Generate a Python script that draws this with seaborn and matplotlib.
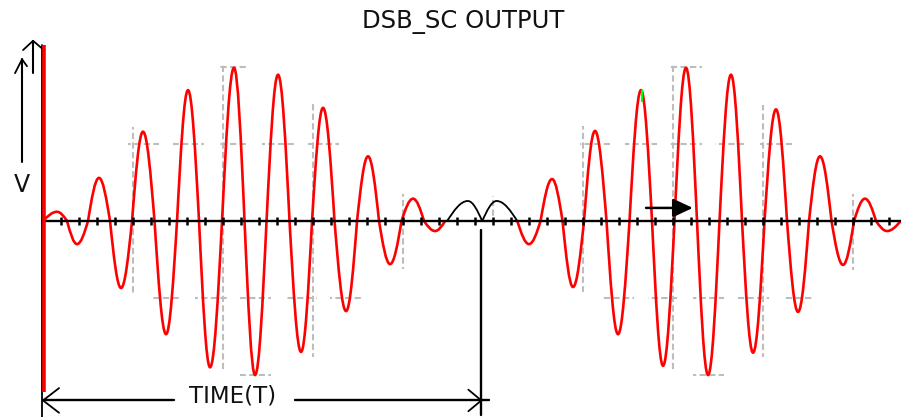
import numpy as np
import matplotlib
matplotlib.use("Agg")
import matplotlib.pyplot as plt
import seaborn as sns
from matplotlib.path import Path
from matplotlib.patches import PathPatch

# ---------------- data (x in grid divisions, y in volts) ----------------
# first DSB-SC burst (red)
burst1_start = 0.0
burst1_peak_x = [0.156, 0.378, 0.622, 0.867, 1.111, 1.367, 1.611, 1.856, 2.122,
                 2.356, 2.611, 2.867, 3.111, 3.367, 3.611, 3.856, 4.111, 4.356]
burst1_peak_y = [0.12, -0.30, 0.56, -0.87, 1.16, -1.47, 1.70, -1.90, 1.99,
                 -2.00, 1.90, -1.70, 1.47, -1.17, 0.84, -0.56, 0.29, -0.13]
burst1_end = 4.467

# message crossing region (black)
gap_start = 4.49
gap_peak_x = [4.72, 5.04]
gap_peak_y = [0.26, 0.26]
gap_end = 5.27

# second DSB-SC burst (red)
burst2_start = 5.27
burst2_peak_x = [5.400, 5.656, 5.889, 6.133, 6.389, 6.644, 6.889, 7.144, 7.389,
                 7.644, 7.889, 8.144, 8.389, 8.633, 8.889, 9.133, 9.378]
burst2_peak_y = [-0.30, 0.545, -0.857, 1.17, -1.47, 1.70, -1.88, 1.99, -2.00,
                 1.90, -1.71, 1.45, -1.18, 0.84, -0.57, 0.29, -0.13]
burst2_end = 9.53

time_ticks = [round(0.2 * k, 1) for k in range(1, 48)]
grid_x = [1, 2, 3, 4, 5, 6, 7, 8, 9]
grid_y = [-2, -1, 1, 2]
title_text = "DSB_SC OUTPUT"
x_label = "TIME(T)"
y_label = "V"


# ---------------- helpers ----------------
def knots_of(start, px, py, end):
    knots = [(start, 0.0)]
    for i, (x, y) in enumerate(zip(px, py)):
        knots.append((x, y))
        if i + 1 < len(px):
            knots.append(((x + px[i + 1]) / 2.0, 0.0))
    knots.append((end, 0.0))
    return knots


def wave_path(knots):
    """Sine-like Bezier path through zero -> extremum -> zero ... knots."""
    verts = [knots[0]]
    codes = [Path.MOVETO]
    for (x0, y0), (x1, y1) in zip(knots[:-1], knots[1:]):
        h = x1 - x0
        if y0 == 0.0:  # rising from zero to extremum
            c1 = (x0 + 0.3343 * h, 0.5251 * y1)
            c2 = (x0 + 0.6419 * h, y1)
        else:  # extremum back to zero
            c1 = (x0 + 0.3581 * h, y0)
            c2 = (x0 + 0.6657 * h, 0.5251 * y0)
        verts += [c1, c2, (x1, y1)]
        codes += [Path.CURVE4] * 3
    return Path(verts, codes)


def lobe_boxes(knots, mx=0.05, my=0.06):
    """Rectangles around each lobe (zero -> extremum -> zero)."""
    verts, codes = [], []
    for i in range(1, len(knots) - 1):
        x, y = knots[i]
        if y == 0.0:
            continue
        xl, xr = knots[i - 1][0] - mx, knots[i + 1][0] + mx
        y0, y1 = (0.0, y + my) if y > 0 else (y - my, 0.0)
        verts += [(xl, y0), (xr, y0), (xr, y1), (xl, y1), (xl, y0)]
        codes += [Path.MOVETO, Path.LINETO, Path.LINETO, Path.LINETO, Path.CLOSEPOLY]
    return verts, codes


# ---------------- figure ----------------
sns.set_theme(style="white")
plt.rcParams['font.family'] = ['DejaVu Sans']

fig = plt.figure(figsize=(9.01, 4.17), dpi=100)
ax = fig.add_axes([0, 0, 1, 1])
ax.set_xlim(-0.478, 9.533)
ax.set_ylim(-2.545, 2.870)
ax.axis('off')

RED = '#ff0000'

segments = [
    (knots_of(burst1_start, burst1_peak_x, burst1_peak_y, burst1_end), RED),
    (knots_of(gap_start, gap_peak_x, gap_peak_y, gap_end), 'black'),
    (knots_of(burst2_start, burst2_peak_x, burst2_peak_y, burst2_end), RED),
]

# faint dashed grid, visible only around the carrier lobes
clip_v, clip_c = [], []
for kn, col in segments:
    v, c = lobe_boxes(kn)
    clip_v += v
    clip_c += c
clip_path = Path(clip_v, clip_c)
grid_lines = []
grid_lines.append(ax.vlines(grid_x, -2.545, 2.870, colors='#bdbdbd', lw=1.5,
                            linestyles=(0, (3, 1.6)), zorder=1))
grid_lines.append(ax.hlines(grid_y, -0.478, 9.533, colors='#bdbdbd', lw=1.5,
                            linestyles=(0, (3, 1.6)), zorder=1))
for gl in grid_lines:
    gl.set_clip_path(clip_path, ax.transData)

for kn, col in segments:
    patch = PathPatch(wave_path(kn), facecolor='none', edgecolor=col,
                      lw=1.9 if col == RED else 1.3, capstyle='butt',
                      joinstyle='round', zorder=3)
    ax.add_patch(patch)

# green marker on one peak
gi = burst2_peak_x.index(6.644)
ax.plot([burst2_peak_x[gi] + 0.012] * 2, [burst2_peak_y[gi], burst2_peak_y[gi] - 0.16],
        color='#00ff00', lw=1.5, zorder=4, solid_capstyle='butt')

# time axis with ticks
sns.lineplot(x=[0, 9.533], y=[0, 0], color='black', lw=1.7, ax=ax, zorder=5)
sns.scatterplot(x=time_ticks, y=[0] * len(time_ticks), marker='|', s=32,
                color='black', linewidth=1.8, ax=ax, zorder=6)

# vertical (voltage) axis: black edge + thick red line
ax.plot([-0.006, -0.006], [2.29, -2.545], color='black', lw=1.3, zorder=5)
ax.plot([0.016, 0.016], [2.29, -2.22], color=RED, lw=2.6, zorder=6, solid_capstyle='butt')

# arrow tip at top of vertical axis
ax.plot([-0.222, -0.111, 0.0], [2.22, 2.34, 2.23], color='black', lw=1.3, zorder=5)
ax.plot([-0.111, -0.111], [2.34, 1.92], color='black', lw=1.5, zorder=5)

# "V" arrow
ax.plot([-0.233, -0.233], [0.766, 2.10], color='black', lw=1.5)
ax.plot([-0.311, -0.233, -0.178], [1.92, 2.10, 2.01], color='black', lw=1.3)
ax.text(-0.233, 0.47, y_label, ha='center', va='center', fontsize=17, color='#111111')

# vertical marker line at the crossing
ax.plot([4.87, 4.87], [-0.117, -2.52], color='black', lw=1.7)

# TIME(T) double arrow
yb = -2.33
ax.plot([0.0, 1.456], [yb, yb], color='black', lw=1.7)
ax.plot([2.80, 4.95], [yb, yb], color='black', lw=1.7)
ax.plot([0.178, 0.0, 0.178], [yb + 0.16, yb, yb - 0.16], color='black', lw=1.3)
ax.plot([4.726, 4.87, 4.726], [yb + 0.14, yb, yb - 0.14], color='black', lw=1.3)
ax.text(2.11, yb + 0.06, x_label, ha='center', va='center', fontsize=16.5, color='#111111')

# small right-pointing arrow
ax.annotate('', xy=(7.22, 0.17), xytext=(6.70, 0.17),
            arrowprops=dict(arrowstyle='-|>,head_length=0.6,head_width=0.28',
                            color='black', lw=1.8, mutation_scale=20,
                            shrinkA=0, shrinkB=0), zorder=7)

fig.text(463 / 901, 1 - 22 / 417, title_text, ha='center', va='center',
         fontsize=17.5, color='#111111')

fig.savefig('out.png', dpi=100)
